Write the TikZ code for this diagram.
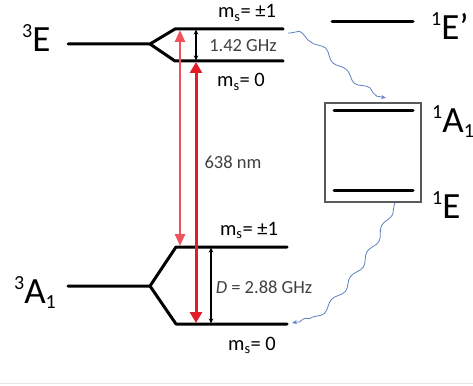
\documentclass[tikz,border=0pt]{standalone}
\usepackage{fontspec}
\setmainfont{Carlito}
\usetikzlibrary{arrows.meta,decorations.pathmorphing}
\definecolor{pinkred}{RGB}{240,82,92}
\definecolor{brightred}{RGB}{228,28,40}
\definecolor{wavyblue}{RGB}{92,128,192}
\definecolor{txtgray}{RGB}{64,64,64}
\definecolor{boxgray}{RGB}{90,90,90}
\newcommand\supx[1]{{\fontsize{20}{20}\selectfont\raisebox{14pt}{#1}}}
\newcommand\subx[1]{{\fontsize{20}{20}\selectfont\raisebox{-5pt}{#1}}}
\begin{document}
\begin{tikzpicture}[x=1pt,y=-1pt,
  level/.style={line width=3pt, line join=round, line cap=round},
  biglbl/.style={font=\fontsize{37}{37}\selectfont, inner sep=0pt, anchor=base west},
  mslbl/.style={font=\fontsize{20.5}{20.5}\selectfont, inner sep=0pt, anchor=base},
  vallbl/.style={font=\fontsize{18.5}{18.5}\selectfont, text=txtgray, inner sep=0pt, anchor=base},
  pinkarrow/.style={pinkred, line width=2.4pt, {Triangle[length=12pt,width=10pt]}-{Triangle[length=12pt,width=10pt]}},
  redarrow/.style={brightred, line width=3pt, {Triangle[length=11pt,width=12pt]}-{Triangle[length=11pt,width=12pt]}},
  splitarrow/.style={black, line width=1.1pt, {Stealth[length=5pt,width=4.5pt]}-{Stealth[length=5pt,width=4.5pt]}},
  wavy/.style={wavyblue, line width=0.8pt, -{Stealth[length=5pt,width=4pt]},
    decorate, decoration={snake, amplitude=2.6pt, segment length=30pt, post length=5pt, pre length=2pt}}
]
\useasboundingbox (0,0) rectangle (473,385);
% faint bottom rule
\draw[gray!20, line width=1pt] (0,383) -- (473,383);

% excited triplet 3E
\coordinate (Es) at (68,44);
\coordinate (Esp) at (150,44);
\coordinate (Et0) at (175,29);
\coordinate (Et1) at (283,29);
\coordinate (Eb0) at (175,61);
\coordinate (Eb1) at (283,61);
\draw[level] (Es) -- (Esp) -- (Et0) -- (Et1);
\draw[level] (Esp) -- (Eb0) -- (Eb1);

% ground triplet 3A1
\coordinate (As) at (68,286);
\coordinate (Asp) at (150,286);
\coordinate (At0) at (176,247);
\coordinate (At1) at (287,247);
\coordinate (Ab0) at (176,324);
\coordinate (Ab1) at (287,324);
\draw[level] (As) -- (Asp) -- (At0) -- (At1);
\draw[level] (Asp) -- (Ab0) -- (Ab1);

% labels of triplets
\node[biglbl] (lE) at (22,52) {\supx{3}E};
\node[biglbl] (lA) at (14,303) {\supx{3}A\subx{1}};

% sublevel labels
\node[mslbl] (m1) at (247,18) {m\textsubscript{s}= ±1};
\node[mslbl] (m2) at (241,87) {m\textsubscript{s}= 0};
\node[mslbl] (m3) at (249,235) {m\textsubscript{s}= ±1};
\node[mslbl] (m4) at (252,350) {m\textsubscript{s}= 0};
\node[vallbl] (v1) at (243,52) {1.42 GHz};
\node[vallbl] (v2) at (233,168) {638 nm};
\node[vallbl] (v3) at (264,293) {\textit{D} = 2.88 GHz};

% splitting arrows
\coordinate (s1a) at (196,29.5);
\coordinate (s1b) at (196,60.5);
\draw[splitarrow] (s1a) -- (s1b);
\coordinate (s2a) at (211,247.5);
\coordinate (s2b) at (211,323.5);
\draw[splitarrow] (s2a) -- (s2b);

% optical transitions
\coordinate (p1) at (180,30);
\coordinate (p2) at (180,246);
\draw[pinkarrow] (p1) -- (p2);
\coordinate (r1) at (196,62);
\coordinate (r2) at (196,323);
\draw[redarrow] (r1) -- (r2);

% singlet states
\coordinate (Sp0) at (332,22);
\coordinate (Sp1) at (413,22);
\draw[level] (Sp0) -- (Sp1);
\node[biglbl] (lEp) at (431,40) {\supx{1}E’};

\draw[boxgray, line width=1.2pt] (325,103) rectangle (421,202);
\coordinate (Sa0) at (334,110);
\coordinate (Sa1) at (413,110);
\coordinate (Se0) at (334,190);
\coordinate (Se1) at (413,190);
\draw[level] (Sa0) -- (Sa1);
\draw[level] (Se0) -- (Se1);
\node[biglbl] (lA1) at (432,132) {\supx{1}A\subx{1}};
\node[biglbl] (lE1) at (432,218) {\supx{1}E};

% non-radiative (wavy) transitions
\coordinate (w1a) at (288,33);
\coordinate (w1b) at (386,98);
\draw[wavy] (w1a) .. controls (318,33) and (335,88) .. (w1b);
\coordinate (w2a) at (395,203);
\coordinate (w2b) at (292,323);
\draw[wavy] (w2a) .. controls (372,255) and (328,318) .. (w2b);
\end{tikzpicture}
\end{document}
